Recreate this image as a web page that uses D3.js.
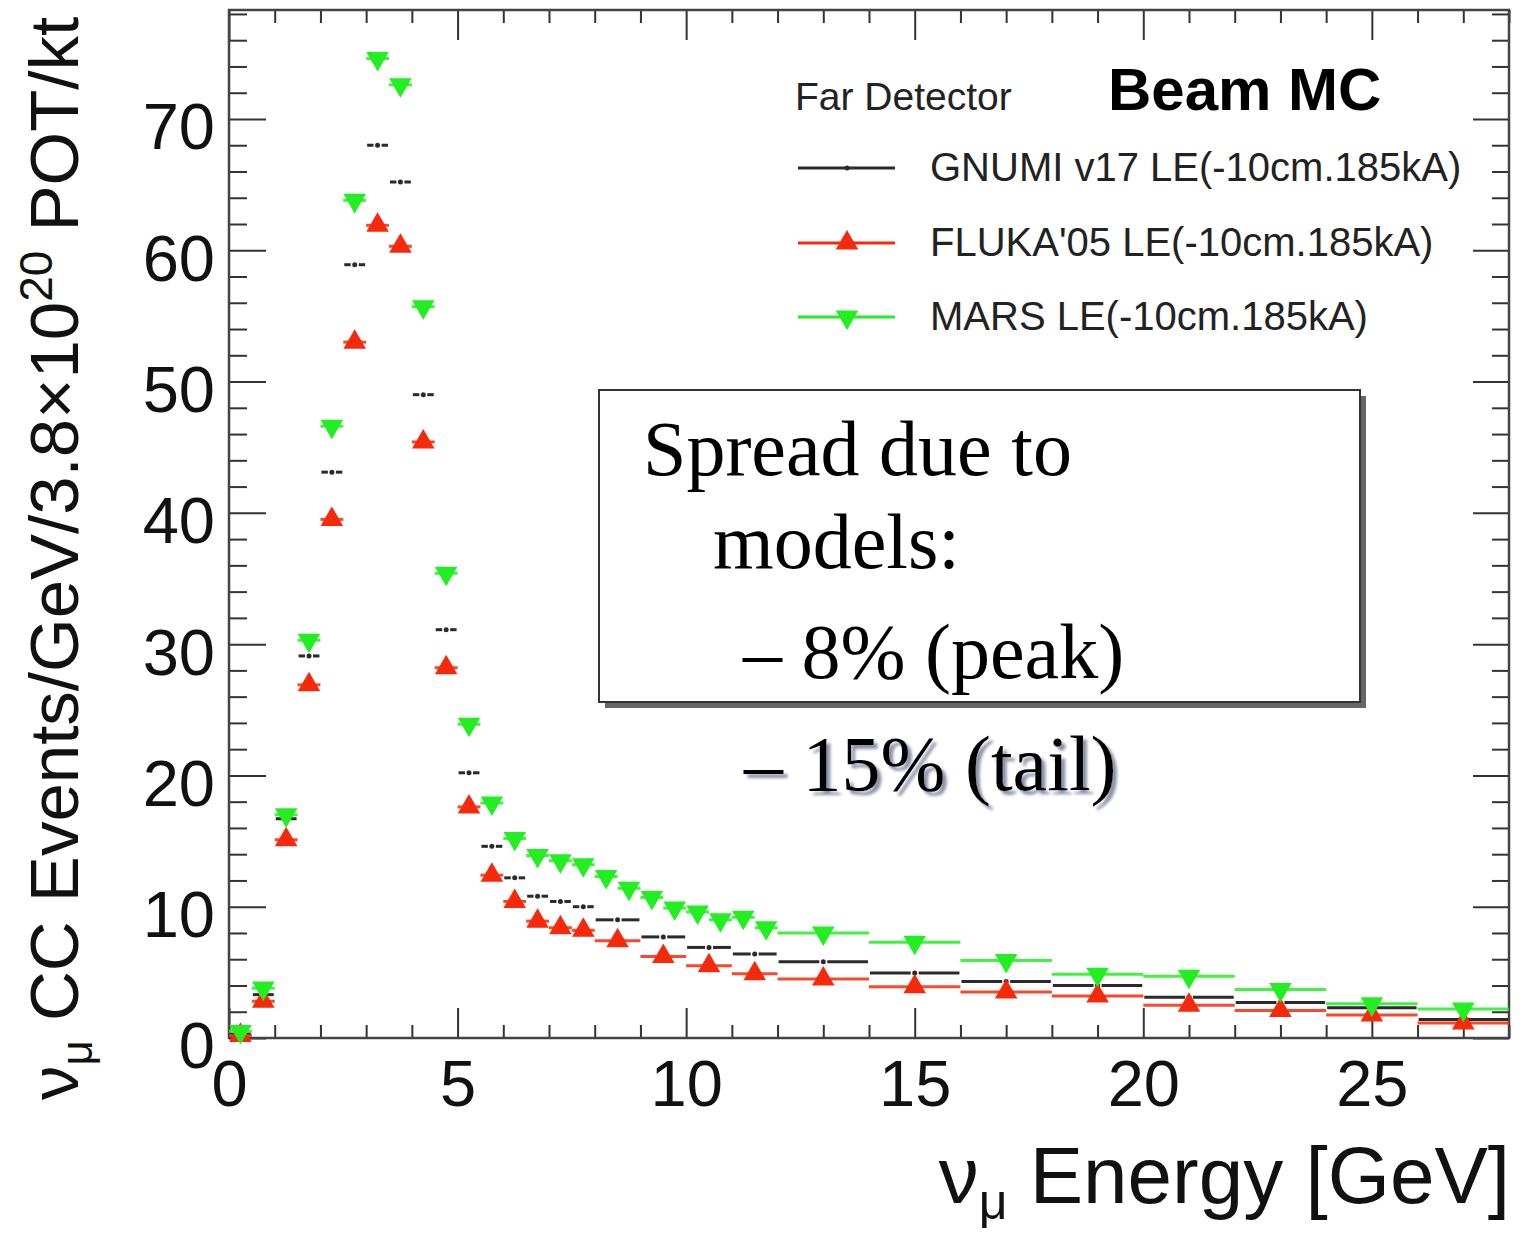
<!DOCTYPE html>
<html>
<head>
<meta charset="utf-8">
<script src="https://cdn.jsdelivr.net/npm/d3@7"></script>
<style>
  body { margin: 0; background: #fff; }
</style>
</head>
<body>
<svg id="chart" width="1530" height="1234" font-family="'Liberation Sans', Arial, Helvetica, sans-serif"></svg>
<script>
// bin edges (GeV) -- GNUMI and FLUKA share binning, MARS keeps 0.5 GeV bins up to 12
const edgesGnumiFluka = [0, 0.5, 1, 1.5, 2, 2.5, 3, 3.5, 4, 4.5, 5, 5.5, 6, 6.5, 7, 7.5, 8,
  9, 10, 11, 12, 14, 16, 18, 20, 22, 24, 26, 28];
const edgesMars = [0, 0.5, 1, 1.5, 2, 2.5, 3, 3.5, 4, 4.5, 5, 5.5, 6, 6.5, 7, 7.5, 8,
  8.5, 9, 9.5, 10, 10.5, 11, 11.5, 12, 14, 16, 18, 20, 22, 24, 26, 28];

// events / GeV / 3.8e20 POT / kt
const gnumi = [0.3, 3.3, 16.7, 29.1, 43.1, 58.9, 68.0, 65.2, 49.0, 31.1, 20.2, 14.6, 12.2, 10.8, 10.4, 10.0,
  9.0, 7.7, 6.9, 6.4, 5.8, 4.95, 4.3, 4.0, 3.1, 2.7, 2.3, 1.4];
const fluka = [0.2, 2.8, 15.1, 26.9, 39.5, 53.0, 61.9, 60.3, 45.4, 28.2, 17.6, 12.4, 10.4, 8.9, 8.4, 8.2,
  7.4, 6.2, 5.5, 4.9, 4.5, 3.9, 3.5, 3.2, 2.5, 2.1, 1.75, 1.15];
const mars = [0.5, 3.8, 17.0, 30.3, 46.6, 63.8, 74.6, 72.6, 55.7, 35.4, 23.9, 17.9, 15.2, 13.9, 13.5, 13.2,
  12.3, 11.4, 10.7, 9.9, 9.6, 9.0, 9.2, 8.4, 8.0, 7.3, 5.9, 4.85, 4.7, 3.7, 2.6, 2.2];

const seriesNames = ["GNUMI v17 LE(-10cm.185kA)", "FLUKA'05 LE(-10cm.185kA)", "MARS LE(-10cm.185kA)"];
const xTicks = [0, 5, 10, 15, 20, 25];
const yTicks = [0, 10, 20, 30, 40, 50, 60, 70];
const boxLines = ["Spread due to", "models:", "\u2013 8% (peak)"];
const tailLine = "\u2013 15% (tail)";

const red = "#f52a0c";
const green = "#22ee22";
const black = "#2a2a2a";
const serif = "'Liberation Serif', 'Times New Roman', Times, serif";

const svg = d3.select("#chart");
const plotLeft = 229, plotRight = 1509, plotTop = 10, plotBottom = 1038;

const x = d3.scaleLinear().domain([0, 28]).range([plotLeft, plotRight]);
const y = d3.scaleLinear().domain([0, 78.3]).range([plotBottom, plotTop]);

function toBins(edges, vals) {
  return vals.map((v, i) => ({lo: edges[i], hi: edges[i + 1], v: v}));
}
const gnumiBins = toBins(edgesGnumiFluka, gnumi);
const flukaBins = toBins(edgesGnumiFluka, fluka);
const marsBins = toBins(edgesMars, mars);

// drop shadow for the "tail" line
const defs = svg.append("defs");
defs.append("filter").attr("id", "shadow")
  .attr("x", "-5%").attr("y", "-20%").attr("width", "115%").attr("height", "150%")
  .append("feDropShadow")
  .attr("dx", 4).attr("dy", 4).attr("stdDeviation", 1.5)
  .attr("flood-color", "#7d879e").attr("flood-opacity", 0.9);

// ---- axes (ROOT style: ticks inward on all four sides)
const xMinor = d3.range(0, 29, 1).filter(d => d % 5 !== 0);
const yMinor = d3.range(0, 79, 2).filter(d => d % 10 !== 0);

function styleAxis(g) {
  g.select(".domain").remove();
  g.selectAll("line").attr("stroke", "#333").attr("stroke-width", 2);
  g.attr("font-family", null).attr("font-size", 65);
  g.selectAll("text").attr("fill", "#111");
}

svg.append("g").attr("transform", `translate(0,${plotBottom})`)
  .call(d3.axisBottom(x).tickValues(xTicks).tickSize(-30).tickPadding(22).tickFormat(d3.format("d")))
  .call(styleAxis);
svg.append("g").attr("transform", `translate(0,${plotBottom})`)
  .call(d3.axisBottom(x).tickValues(xMinor).tickSize(-13).tickFormat(""))
  .call(styleAxis);
svg.append("g").attr("transform", `translate(0,${plotTop})`)
  .call(d3.axisTop(x).tickValues(xTicks).tickSize(-30).tickFormat(""))
  .call(styleAxis);
svg.append("g").attr("transform", `translate(0,${plotTop})`)
  .call(d3.axisTop(x).tickValues(xMinor).tickSize(-13).tickFormat(""))
  .call(styleAxis);

svg.append("g").attr("transform", `translate(${plotLeft},0)`)
  .call(d3.axisLeft(y).tickValues(yTicks).tickSize(-37).tickPadding(14).tickFormat(d3.format("d")))
  .call(styleAxis)
  .selectAll("text").attr("dy", "0.46em");
svg.append("g").attr("transform", `translate(${plotLeft},0)`)
  .call(d3.axisLeft(y).tickValues(yMinor).tickSize(-18).tickFormat(""))
  .call(styleAxis);
svg.append("g").attr("transform", `translate(${plotRight},0)`)
  .call(d3.axisRight(y).tickValues(yTicks).tickSize(-36).tickFormat(""))
  .call(styleAxis);
svg.append("g").attr("transform", `translate(${plotRight},0)`)
  .call(d3.axisRight(y).tickValues(yMinor).tickSize(-17).tickFormat(""))
  .call(styleAxis);

svg.append("rect")
  .attr("x", plotLeft).attr("y", plotTop)
  .attr("width", plotRight - plotLeft).attr("height", plotBottom - plotTop)
  .attr("fill", "none").attr("stroke", "#444").attr("stroke-width", 2.5);

// ---- data
const tri = d3.symbol().type(d3.symbolTriangle).size(220);

// GNUMI: horizontal bars with a gap around a small dot marker
const gG = svg.append("g");
gG.selectAll("line.l").data(gnumiBins).join("line")
  .attr("x1", d => x(d.lo) + 1).attr("x2", d => (x(d.lo) + x(d.hi)) / 2 - 4)
  .attr("y1", d => y(d.v)).attr("y2", d => y(d.v))
  .attr("stroke", black).attr("stroke-width", 3);
gG.selectAll("line.r").data(gnumiBins).join("line")
  .attr("x1", d => (x(d.lo) + x(d.hi)) / 2 + 4).attr("x2", d => x(d.hi) - 1)
  .attr("y1", d => y(d.v)).attr("y2", d => y(d.v))
  .attr("stroke", black).attr("stroke-width", 3);
gG.selectAll("circle").data(gnumiBins).join("circle")
  .attr("cx", d => x((d.lo + d.hi) / 2)).attr("cy", d => y(d.v)).attr("r", 2.5)
  .attr("fill", black);

function drawSeries(bins, color, rot) {
  const g = svg.append("g");
  g.selectAll("line").data(bins).join("line")
    .attr("x1", d => x(d.lo)).attr("x2", d => x(d.hi))
    .attr("y1", d => y(d.v)).attr("y2", d => y(d.v))
    .attr("stroke", color).attr("stroke-width", 3).attr("stroke-opacity", 0.85);
  g.selectAll("path").data(bins).join("path")
    .attr("d", tri)
    .attr("transform", d => `translate(${x((d.lo + d.hi) / 2)},${y(d.v)}) rotate(${rot})`)
    .attr("fill", color);
}
drawSeries(flukaBins, red, 0);
drawSeries(marsBins, green, 180);

// ---- axis titles
const yTitle = svg.append("text")
  .attr("transform", "translate(78,1100) rotate(-90)")
  .attr("font-size", 69).attr("fill", "#111");
yTitle.append("tspan").text("\u03bd");
yTitle.append("tspan").attr("font-size", 44).attr("dy", 14).text("\u03bc");
yTitle.append("tspan").attr("dy", -14).text(" CC Events/GeV/3.8\u00d710");
yTitle.append("tspan").attr("font-size", 46).attr("dy", -26).text("20");
yTitle.append("tspan").attr("dy", 26).text(" POT/kt");

const xTitle = svg.append("text")
  .attr("x", 1510).attr("y", 1203).attr("text-anchor", "end")
  .attr("font-size", 80).attr("fill", "#111");
xTitle.append("tspan").text("\u03bd");
xTitle.append("tspan").attr("font-size", 50).attr("dy", 16).text("\u03bc");
xTitle.append("tspan").attr("dy", -16).text(" Energy [GeV]");

// ---- legend
svg.append("text").attr("x", 795).attr("y", 110).attr("font-size", 39).attr("fill", "#222")
  .text("Far Detector");
svg.append("text").attr("x", 1108).attr("y", 110).attr("font-size", 60).attr("font-weight", "bold")
  .attr("fill", "#000").text("Beam MC");

const legendY = [168, 243, 317];
const legendColors = [black, red, green];
const leg = svg.append("g");
seriesNames.forEach((name, i) => {
  const ly = legendY[i];
  leg.append("line").attr("x1", 798).attr("x2", 895).attr("y1", ly).attr("y2", ly)
    .attr("stroke", legendColors[i]).attr("stroke-width", 3);
  if (i === 0) {
    leg.append("circle").attr("cx", 847).attr("cy", ly).attr("r", 2.5).attr("fill", black);
  } else {
    leg.append("path").attr("d", tri)
      .attr("transform", `translate(847,${ly}) rotate(${i === 2 ? 180 : 0})`)
      .attr("fill", legendColors[i]);
  }
  leg.append("text").attr("x", 930).attr("y", ly + 13).attr("font-size", 40).attr("fill", "#222")
    .text(name);
});

// ---- annotation box
svg.append("rect").attr("x", 605).attr("y", 396).attr("width", 761).attr("height", 312)
  .attr("fill", "#666");
svg.append("rect").attr("x", 599).attr("y", 390).attr("width", 761).attr("height", 312)
  .attr("fill", "#fff").attr("stroke", "#333").attr("stroke-width", 2);

const boxX = [643, 713, 743];
const boxY = [475, 568, 678];
boxLines.forEach((t, i) => {
  svg.append("text").attr("x", boxX[i]).attr("y", boxY[i])
    .attr("font-family", serif)
    .attr("font-size", 78).attr("fill", "#000").text(t);
});
svg.append("text").attr("x", 744).attr("y", 790)
  .attr("font-family", serif).attr("filter", "url(#shadow)")
  .attr("font-size", 78).attr("fill", "#000").text(tailLine);
</script>
</body>
</html>
